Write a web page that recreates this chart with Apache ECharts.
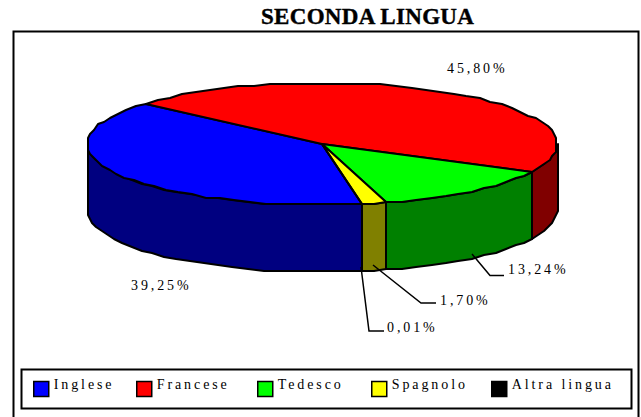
<!DOCTYPE html>
<html><head><meta charset="utf-8">
<style>
html,body{margin:0;padding:0;background:#fff;overflow:hidden}
#c{width:641px;height:417px}
svg text{letter-spacing:2.9px}
svg text[style*="bold"]{letter-spacing:0.3px}
</style>
<script src="https://cdn.jsdelivr.net/npm/echarts@6/dist/echarts.min.js"></script>
</head><body><div id="c"></div>
<script>
const titleText = 'SECONDA LINGUA';
const categories = ['Inglese','Francese','Tedesco','Spagnolo','Altra lingua'];
const shares = [39.25,45.80,13.24,1.70,0.01];
const topColors = ['#0000ff','#ff0000','#00ff00','#ffff00','#000000'];
const sideColors = ['#000080','#800000','#008000','#808000','#000000'];
// layout
const cx=322, cy=144, rx=235, ry=61, depth=67, startAngle=170.4, snap=2;
const labelPos = [[131,285],[447,68],[508,269],[440,300],[387,327]];
const leaders = [null,null,[[472,254],[490,275.5],[504,275.5]],[[373,265],[421,303],[436,303]],[[361,267],[369,331],[384,331]]];
const legendLeft = [33,136,257,371,491];

const total = shares.reduce((a,b)=>a+b,0);
function pt(t,dy){
  const r=t*Math.PI/180;
  const x=cx+rx*Math.sin(r), y=cy-ry*Math.cos(r);
  return [Math.round(x/snap)*snap, Math.round(y/snap)*snap+dy];
}
function arc(a,b,dy){
  const out=[], n=Math.max(1,Math.ceil(Math.abs(b-a)/4));
  for(let i=0;i<=n;i++) out.push(pt(a+(b-a)*i/n,dy));
  return out;
}
function fmt(v){return v.toFixed(2).replace('.',',')+'%';}
function renderSlice(i){
  return function(params,api){
    const v=api.value(0);
    let t0=startAngle;
    for(let k=0;k<i;k++) t0+=shares[k]/total*360;
    const t1=t0+v/total*360;
    const children=[];
    const line={stroke:'#000',lineWidth:2,lineJoin:'round'};
    [[90,270],[450,630]].forEach(w=>{
      const a=Math.max(t0,w[0]), b=Math.min(t1,w[1]);
      if(b>a){
        const pts=arc(a,b,0).concat(arc(b,a,depth));
        children.push({type:'polygon',z2:1,shape:{points:pts},style:Object.assign({fill:sideColors[i]},line)});
      }
    });
    children.push({type:'polygon',z2:2,shape:{points:[[cx,cy]].concat(arc(t0,t1,0))},style:Object.assign({fill:topColors[i]},line)});
    if(leaders[i]) children.push({type:'polyline',z2:3,shape:{points:leaders[i]},style:{fill:null,stroke:'#000',lineWidth:1.5}});
    children.push({type:'text',z2:4,style:{text:fmt(v),x:labelPos[i][0],y:labelPos[i][1],fill:'#000',font:'14px "Liberation Serif"',textAlign:'left',textVerticalAlign:'middle'}});
    return {type:'group',children};
  };
}
const chart=echarts.init(document.getElementById('c'),null,{renderer:'svg'});
chart.setOption({
  animation:false,
  backgroundColor:'#fff',
  title:{text:titleText,left:256,top:0,textStyle:{fontFamily:'Liberation Serif',fontWeight:'bold',fontSize:23,color:'#000',textBorderColor:'#000',textBorderWidth:0.4}},
  legend:categories.map((c,i)=>({
    data:[c],left:legendLeft[i],top:377,itemWidth:15,itemHeight:15,itemGap:0,padding:0,selectedMode:false,icon:'rect',
    itemStyle:{borderColor:'#000',borderWidth:1.5},
    formatter:n=>'{a|'+n+'}',
    textStyle:{fontFamily:'Liberation Serif',fontSize:14,color:'#000',rich:{a:{fontFamily:'Liberation Serif',fontSize:14,color:'#000',padding:[0,0,10,0]}}}
  })),
  graphic:[
    {type:'rect',z:-1,shape:{x:13.5,y:31.5,width:625,height:395},style:{fill:'#fff',stroke:'#000',lineWidth:2}},
    {type:'rect',z:-1,shape:{x:21.5,y:369.5,width:610,height:39},style:{fill:'#fff',stroke:'#000',lineWidth:2}}
  ],
  series:categories.map((c,i)=>({
    type:'custom',name:c,coordinateSystem:'none',silent:true,
    itemStyle:{color:topColors[i]},
    renderItem:renderSlice(i),
    data:[[shares[i]]]
  }))
});
</script></body></html>
